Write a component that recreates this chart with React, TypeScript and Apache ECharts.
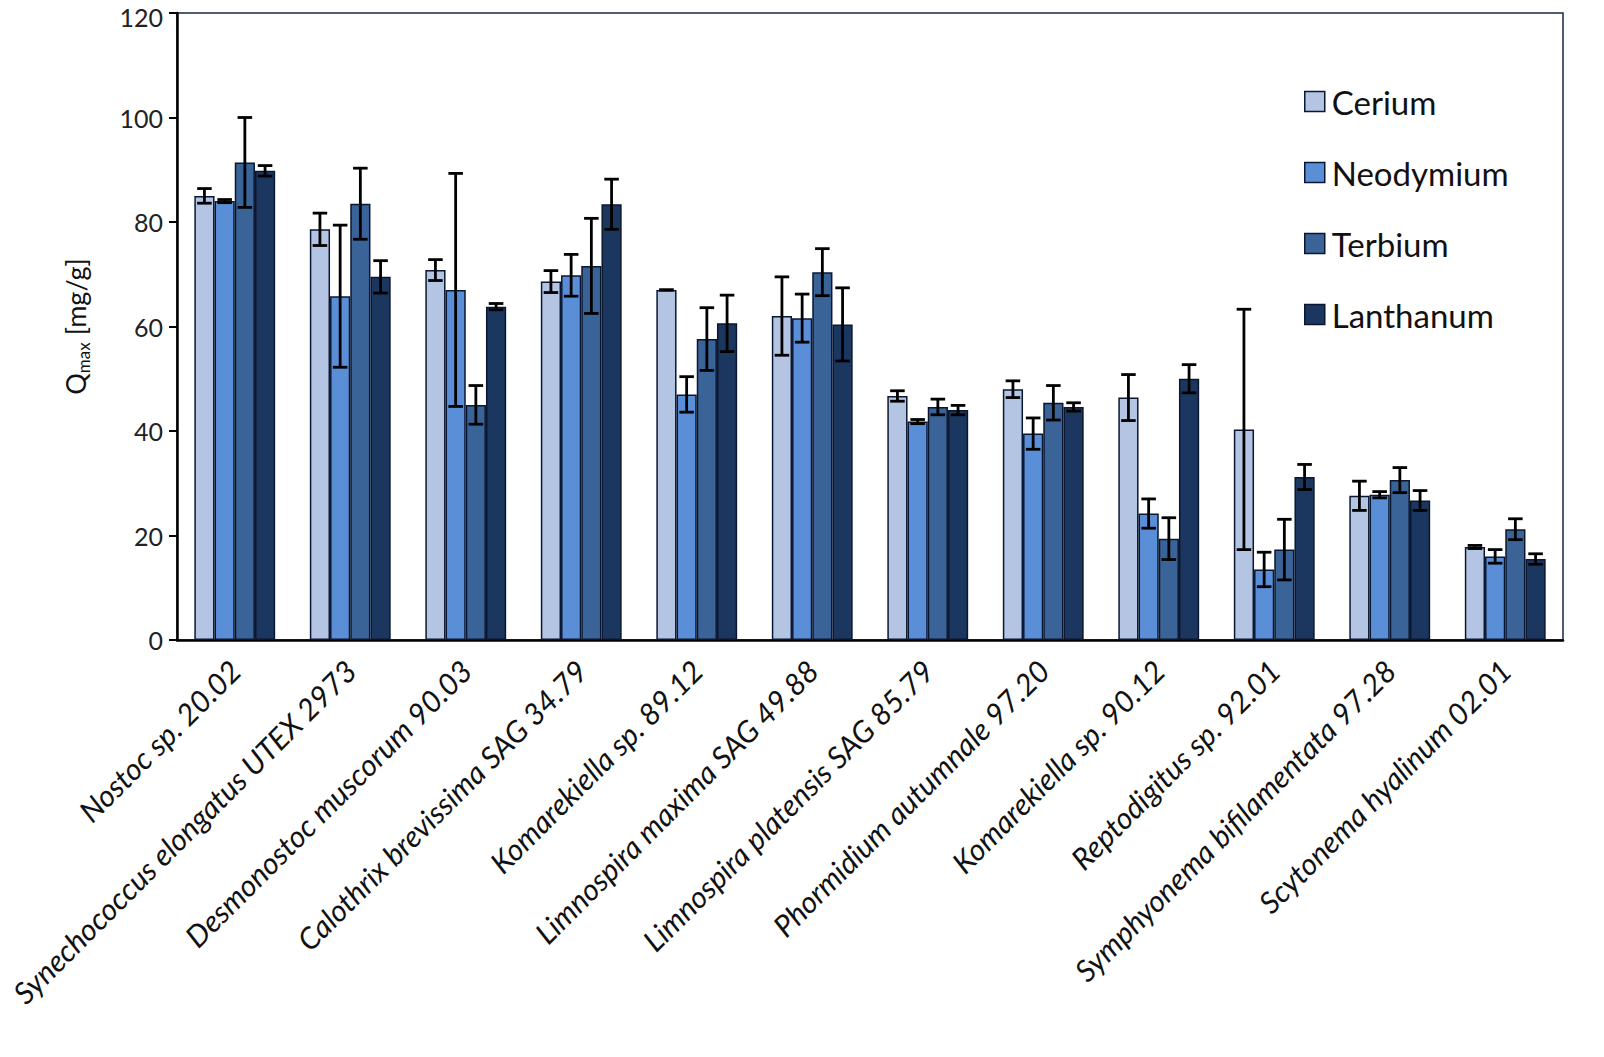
import React, { useEffect, useRef } from "react";
import * as echarts from "echarts";

const categories = [
  "Nostoc sp. 20.02",
  "Synechococcus elongatus UTEX 2973",
  "Desmonostoc muscorum 90.03",
  "Calothrix brevissima SAG 34.79",
  "Komarekiella sp. 89.12",
  "Limnospira maxima SAG 49.88",
  "Limnospira platensis SAG 85.79",
  "Phormidium autumnale 97.20",
  "Komarekiella sp. 90.12",
  "Reptodigitus sp. 92.01",
  "Symphyonema bifilamentata 97.28",
  "Scytonema hyalinum 02.01",
];

const seriesNames = ["Cerium", "Neodymium", "Terbium", "Lanthanum"];

const cerium = [85.0, 78.6, 70.8, 68.6, 67.0, 62.0, 46.7, 48.0, 46.4, 40.3, 27.6, 17.8];
const ceriumErr = [1.4, 3.1, 2.0, 2.1, 0, 7.5, 1.0, 1.6, 4.4, 23.0, 2.8, 0.3];
const neodymium = [84.0, 65.8, 67.0, 69.8, 47.0, 61.6, 41.8, 39.5, 24.2, 13.5, 27.8, 16.0];
const neodymiumErr = [0.3, 13.6, 22.3, 4.0, 3.4, 4.6, 0.4, 3.0, 2.8, 3.3, 0.6, 1.3];
const terbium = [91.4, 83.5, 45.0, 71.6, 57.6, 70.4, 44.6, 45.4, 19.4, 17.3, 30.6, 21.2];
const terbiumErr = [8.6, 6.8, 3.7, 9.1, 6.0, 4.5, 1.5, 3.3, 4.0, 5.8, 2.4, 2.0];
const lanthanum = [89.8, 69.5, 63.8, 83.4, 60.6, 60.4, 44.0, 44.6, 50.0, 31.2, 26.7, 15.5];
const lanthanumErr = [1.0, 3.1, 0.6, 4.8, 5.4, 7.0, 0.9, 0.8, 2.7, 2.4, 1.9, 1.0];

const yTicks = [0, 20, 40, 60, 80, 100, 120];

const colors = ["#b4c5e4", "#5a8fd8", "#3a6397", "#1c375f"];
const barBorder = "#0b1730";
const FONT = "Lato";
const CAT_GAP = 0.3;

export default function App() {
  const ref = useRef<HTMLDivElement>(null);

  useEffect(() => {
    if (!ref.current) return;
    const chart = echarts.init(ref.current, undefined, { renderer: "svg" });
    const values = [cerium, neodymium, terbium, lanthanum];
    const errs = [ceriumErr, neodymiumErr, terbiumErr, lanthanumErr];
    const nS = values.length;

    const errData: number[][] = [];
    values.forEach((arr, s) => {
      arr.forEach((v, i) => {
        errData.push([i, v, errs[s][i], s]);
      });
    });

    const barSeries = values.map((arr, s) => ({
      name: seriesNames[s],
      type: "bar",
      data: arr,
      barGap: "0%",
      barCategoryGap: `${CAT_GAP * 100}%`,
      itemStyle: { color: colors[s], borderColor: barBorder, borderWidth: 1.5 },
      z: 2,
    }));

    const option: any = {
      animation: false,
      backgroundColor: "#ffffff",
      grid: {
        left: 177,
        right: 41,
        top: 13,
        bottom: 417,
        containLabel: false,
        outerBoundsMode: "none",
        show: true,
        borderColor: "#1a2640",
        borderWidth: 1.5,
        backgroundColor: "transparent",
      },
      legend: {
        orient: "vertical",
        left: 1299,
        top: 79,
        itemWidth: 20,
        itemHeight: 20,
        itemGap: 36,
        icon: "rect",
        data: seriesNames,
        itemStyle: { borderColor: barBorder, borderWidth: 1.5 },
        textStyle: {
          fontFamily: FONT,
          fontSize: 33,
          color: "#111",
          lineHeight: 35,
          padding: [0, 0, 0, 2],
        },
      },
      xAxis: {
        type: "category",
        data: categories,
        axisLine: { show: true, lineStyle: { color: "#000", width: 2.5 } },
        axisTick: { show: false },
        axisLabel: {
          rotate: 45,
          interval: 0,
          margin: 25,
          fontFamily: FONT,
          fontStyle: "italic",
          fontSize: 30,
          lineHeight: 24,
          color: "#111",
        },
        splitLine: { show: false },
      },
      yAxis: {
        type: "value",
        min: 0,
        max: 120,
        interval: 20,
        axisLine: { show: true, lineStyle: { color: "#000", width: 2.5 } },
        axisTick: { show: true, length: 8, lineStyle: { color: "#000", width: 2 } },
        axisLabel: {
          margin: 14,
          fontFamily: FONT,
          fontSize: 25,
          lineHeight: 8,
          verticalAlignMaxLabel: "top",
          color: "#222",
          formatter: (v: number) => (yTicks.includes(v) ? String(v) : ""),
        },
        splitLine: { show: false },
        name: "{q|Q}{s|max}{q| [mg/g]}",
        nameLocation: "middle",
        nameRotate: 90,
        nameGap: 85,
        nameTextStyle: {
          fontFamily: FONT,
          color: "#111",
          rich: {
            q: { fontFamily: FONT, fontSize: 27, color: "#111", lineHeight: 34, verticalAlign: "middle" },
            s: { fontFamily: FONT, fontSize: 17, color: "#111", lineHeight: 34, verticalAlign: "bottom", padding: [12, 0, 0, 0] },
          },
        },
      },
      series: [
        ...barSeries,
        {
          type: "custom",
          name: "errors",
          data: errData,
          encode: { x: 0, y: 1 },
          z: 5,
          silent: true,
          renderItem: (params: any, api: any) => {
            const cat = api.value(0);
            const val = api.value(1);
            const err = api.value(2);
            const s = api.value(3);
            const band = api.size([1, 0])[0];
            const barW = (band * (1 - CAT_GAP)) / nS;
            const c = api.coord([cat, val]);
            const x = c[0] + (s - (nS - 1) / 2) * barW;
            const yTop = api.coord([cat, val + err])[1];
            const yBot = api.coord([cat, val - err])[1];
            const cap = barW * 0.36;
            const style = { stroke: "#000", lineWidth: 2.8 };
            return {
              type: "group",
              children: [
                { type: "line", shape: { x1: x, y1: yTop, x2: x, y2: yBot }, style },
                { type: "line", shape: { x1: x - cap, y1: yTop, x2: x + cap, y2: yTop }, style },
                { type: "line", shape: { x1: x - cap, y1: yBot, x2: x + cap, y2: yBot }, style },
              ],
            };
          },
        },
      ],
    };

    chart.setOption(option);
    return () => chart.dispose();
  }, []);

  return (
    <div
      ref={ref}
      style={{ position: "fixed", left: 0, top: 0, width: 1604, height: 1057, background: "#fff" }}
    />
  );
}
